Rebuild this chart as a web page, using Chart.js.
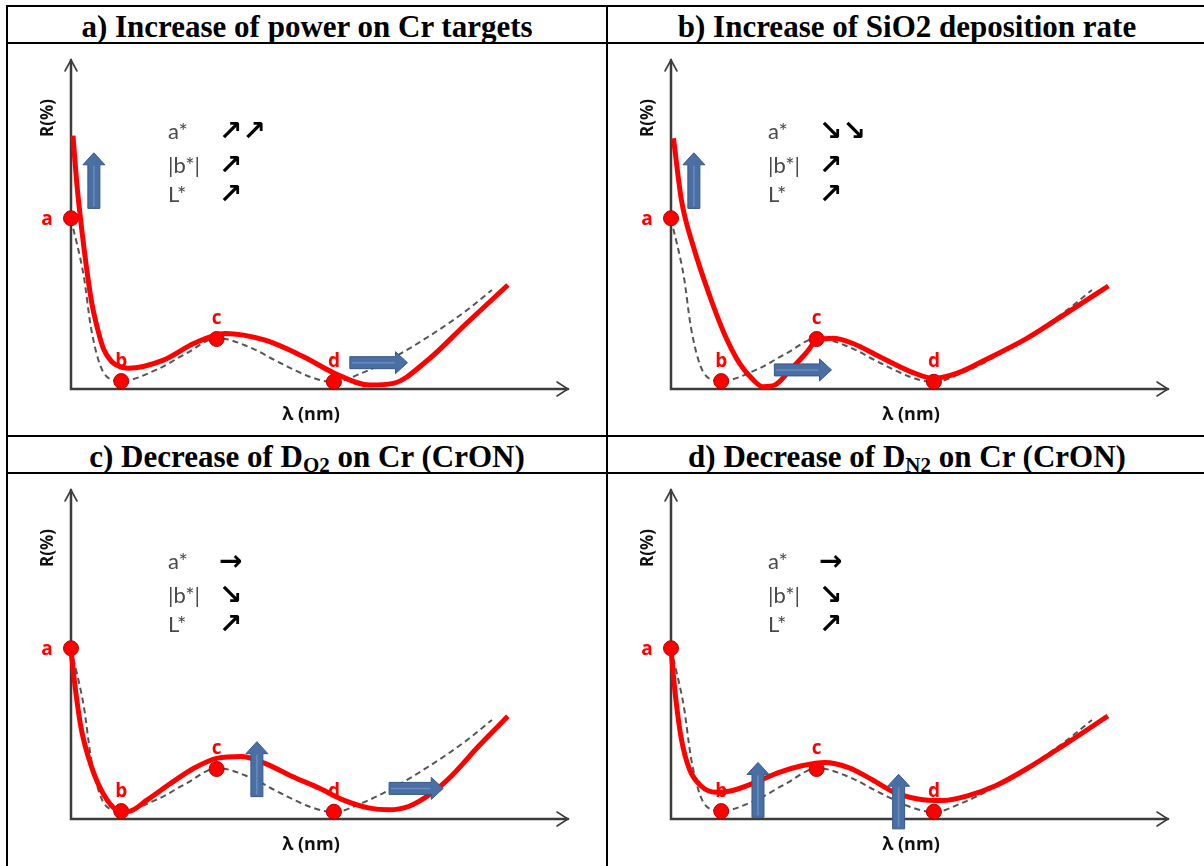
<!DOCTYPE html>
<html>
<head>
<meta charset="utf-8">
<script src="https://cdn.jsdelivr.net/npm/chart.js@4.4.0/dist/chart.umd.min.js"></script>
<style>
  html, body { margin: 0; padding: 0; background: #fff; width: 1204px; height: 866px; overflow: hidden; }
  .rule { position: absolute; background: #000; }
  .title {
    position: absolute; height: 37px; width: 598px;
    font-family: "Liberation Serif", "Times New Roman", serif;
    font-weight: bold; font-size: 31px; line-height: 39px;
    text-align: center; color: #000; white-space: nowrap;
  }
  .title sub { font-size: 21px; vertical-align: -5px; line-height: 0; }
  .cell { position: absolute; width: 598px; height: 392px; }
</style>
</head>
<body>
<div id="page"></div>
<script>
// ---- Panel headings ----
const titleMain = ['a) Increase of power on Cr targets', 'b) Increase of SiO2 deposition rate', 'c) Decrease of D', 'd) Decrease of D'];
const titleSub  = ['', '', 'O2', 'N2'];
const titleTail = ['', '', ' on Cr (CrON)', ' on Cr (CrON)'];

// ---- Reference spectrum (dashed), same in every panel ----
const refX = [0, 2.6, 4.0, 6.0, 8.5, 10.1, 17.1, 23.3, 29.4, 35.8, 42.1, 48.3, 52.9, 58.6, 64.0, 71.8, 79.7, 84.7];
const refY = [51.7, 34.0, 18.8, 6.7, 2.7, 2.4, 5.8, 10.9, 15.5, 12.8, 7.9, 3.6, 2.1, 4.9, 8.8, 15.8, 24.0, 30.1];

// ---- Characteristic points a, b, c, d of the reference ----
const markNames = ['a', 'b', 'c', 'd'];
const markX = [0, 10.1, 29.3, 52.9];
const markY = [51.9, 2.4, 15.2, 2.2];

// ---- Modified spectra (solid red), one per panel ----
const redAX = [0.4, 1.2, 2.2, 3.2, 4.2, 5.4, 6.6, 8.2, 9.8, 11.5, 18.6, 24.8, 31.1, 38.9, 46.8, 53.0, 60.1, 64.8, 71.8, 79.6, 87.9];
const redAY = [77.0, 62.0, 48.0, 36.0, 26.0, 18.0, 12.0, 8.3, 6.8, 6.3, 8.8, 13.9, 16.9, 14.9, 9.8, 4.8, 1.2, 1.7, 8.8, 20.0, 31.6];

const redBX = [0.5, 2.1, 4.5, 7.6, 10.7, 13.8, 16.6, 18.5, 20.9, 24.0, 27.1, 29.5, 32.6, 36.5, 42.0, 48.2, 52.9, 57.6, 63.8, 71.6, 79.5, 88.0];
const redBY = [76.2, 57.4, 43.3, 29.1, 16.9, 7.8, 2.7, 0.7, 1.2, 5.8, 10.8, 14.9, 15.4, 13.9, 9.8, 5.3, 3.2, 4.8, 9.3, 15.4, 23.0, 31.3];

const redCX = [0, 0.9, 2.1, 4.1, 6.4, 9.2, 11.5, 15.4, 20.1, 24.8, 29.5, 34.2, 38.9, 44.4, 49.9, 54.6, 60.1, 64.0, 67.9, 72.6, 76.5, 82.0, 87.9];
const redCY = [51.4, 39.3, 27.1, 16.0, 7.9, 2.8, 2.3, 5.9, 10.9, 15.5, 18.5, 19.0, 17.0, 13.0, 9.4, 5.9, 3.3, 2.8, 3.8, 7.9, 13.0, 22.1, 31.2];

const redDX = [0, 0.9, 2.1, 3.7, 6.0, 9.1, 12.2, 16.9, 21.6, 26.3, 31.0, 35.6, 40.3, 45.0, 49.7, 54.4, 59.8, 65.3, 71.5, 79.3, 87.9];
const redDY = [51.5, 37.4, 24.2, 15.2, 10.1, 8.1, 8.6, 11.1, 14.1, 16.2, 17.2, 15.7, 12.1, 8.1, 6.1, 5.6, 7.1, 10.1, 15.2, 22.7, 31.3];

// ---- Shift arrows: [x0, y0, x1, y1] from tail to head ----
const shiftsA = [[4.6, 54.9, 4.6, 71.8], [56.1, 8.0, 67.7, 8.0]];
const shiftsB = [[4.6, 54.9, 4.6, 71.8], [20.8, 5.8, 32.3, 5.8]];
const shiftsC = [[37.4, 6.8, 37.4, 23.5], [64.0, 9.3, 74.9, 9.3]];
const shiftsD = [[17.5, 0.5, 17.5, 17.2], [45.8, -3.0, 45.8, 13.6]];

// ---- Colour coordinate trends ----
const trendNames = ['a*', '|b*|', 'L*'];
const trendsA = ['\u2197\u2197', '\u2197', '\u2197'];
const trendsB = ['\u2198\u2198', '\u2197', '\u2197'];
const trendsC = ['\u2192', '\u2198', '\u2197'];
const trendsD = ['\u2192', '\u2198', '\u2197'];

const panels = [
  { rx: redAX, ry: redAY, shifts: shiftsA, trends: trendsA },
  { rx: redBX, ry: redBY, shifts: shiftsB, trends: trendsB },
  { rx: redCX, ry: redCY, shifts: shiftsC, trends: trendsC },
  { rx: redDX, ry: redDY, shifts: shiftsD, trends: trendsD }
];

const zip = (xs, ys) => xs.map((x, i) => ({ x: x, y: ys[i] }));

// ---- Page frame: table rules ----
const page = document.getElementById('page');
function rule(l, t, w, h) {
  const d = document.createElement('div');
  d.className = 'rule';
  Object.assign(d.style, { left: l + 'px', top: t + 'px', width: w + 'px', height: h + 'px' });
  page.appendChild(d);
}
rule(6, 5, 1198, 2);
rule(6, 42, 1198, 2);
rule(6, 435, 1198, 2);
rule(6, 472, 1198, 2);
rule(6, 5, 2, 861);
rule(606, 5, 2, 861);

const cellLeft = [8, 608, 8, 608];
const headTop = [7, 7, 437, 437];
const cellTop = [44, 44, 474, 474];

// ---- Drawing helpers ----
function drawAxisArrows(chart) {
  const { ctx, chartArea: a } = chart;
  ctx.save();
  ctx.strokeStyle = '#3c3c3c';
  ctx.lineWidth = 2.5;
  ctx.lineCap = 'round';
  ctx.beginPath();
  ctx.moveTo(a.left, a.top);
  ctx.lineTo(a.left, a.bottom);
  ctx.lineTo(a.right, a.bottom);
  ctx.stroke();
  ctx.lineWidth = 1.6;
  ctx.beginPath();
  ctx.moveTo(a.left - 6, a.top + 11);
  ctx.lineTo(a.left, a.top);
  ctx.lineTo(a.left + 6, a.top + 11);
  ctx.moveTo(a.right - 11, a.bottom - 7);
  ctx.lineTo(a.right, a.bottom);
  ctx.lineTo(a.right - 11, a.bottom + 7);
  ctx.stroke();
  // axis titles
  ctx.fillStyle = '#111';
  ctx.font = 'bold 17px "Open Sans", "DejaVu Sans", sans-serif';
  ctx.textAlign = 'center';
  ctx.textBaseline = 'middle';
  ctx.save();
  ctx.translate(a.left - 23, a.top + 58);
  ctx.rotate(-Math.PI / 2);
  ctx.fillText('R(%)', 0, 0);
  ctx.restore();
  ctx.font = 'bold 18px "Open Sans", "DejaVu Sans", sans-serif';
  ctx.fillText('\u03bb (nm)', a.left + 240, a.bottom + 26);
  ctx.restore();
}

function drawBlockArrow(ctx, x0, y0, x1, y1) {
  const ang = Math.atan2(y1 - y0, x1 - x0);
  const len = Math.hypot(x1 - x0, y1 - y0);
  const half = 6, headHalf = 11, headLen = 12;
  ctx.save();
  ctx.translate(x0, y0);
  ctx.rotate(ang);
  ctx.beginPath();
  ctx.moveTo(0, -half);
  ctx.lineTo(len - headLen, -half);
  ctx.lineTo(len - headLen, -headHalf);
  ctx.lineTo(len, 0);
  ctx.lineTo(len - headLen, headHalf);
  ctx.lineTo(len - headLen, half);
  ctx.lineTo(0, half);
  ctx.closePath();
  ctx.fillStyle = '#4a6fa5';
  ctx.fill();
  ctx.strokeStyle = '#36588a';
  ctx.lineWidth = 1;
  ctx.stroke();
  ctx.strokeStyle = 'rgba(140,170,210,0.5)';
  ctx.lineWidth = 1.5;
  ctx.beginPath();
  ctx.moveTo(2, 0);
  ctx.lineTo(len - headLen - 1, 0);
  ctx.stroke();
  ctx.restore();
}

const overlay = {
  id: 'overlay',
  beforeDatasetsDraw(chart) {
    drawAxisArrows(chart);
  },
  afterDatasetsDraw(chart, args, opts) {
    const { ctx, scales: { x, y } } = chart;
    // shift arrows
    opts.shifts.forEach(s => {
      drawBlockArrow(ctx, x.getPixelForValue(s[0]), y.getPixelForValue(s[1]),
                          x.getPixelForValue(s[2]), y.getPixelForValue(s[3]));
    });
    // point letters
    ctx.save();
    ctx.fillStyle = '#ff0000';
    ctx.font = 'bold 19px "Open Sans", "DejaVu Sans", sans-serif';
    ctx.textAlign = 'center';
    ctx.textBaseline = 'middle';
    markNames.forEach((n, i) => {
      const px = x.getPixelForValue(markX[i]);
      const py = y.getPixelForValue(markY[i]);
      if (i === 0) ctx.fillText(n, px - 24, py + 1);
      else ctx.fillText(n, px, py - 20);
    });
    ctx.restore();
    // colour trends
    ctx.save();
    ctx.textBaseline = 'alphabetic';
    ctx.textAlign = 'left';
    const rows = [76, 65.6, 56.8];
    trendNames.forEach((n, i) => {
      const py = y.getPixelForValue(rows[i]);
      ctx.fillStyle = '#4a4a4a';
      ctx.font = '22px Lato, "Liberation Sans", sans-serif';
      ctx.fillText(n, x.getPixelForValue(19.5), py);
      ctx.fillStyle = '#000';
      ctx.font = 'bold 28px "DejaVu Sans", sans-serif';
      ctx.fillText(opts.trends[i], x.getPixelForValue(29.8), py + 1);
    });
    ctx.restore();
  }
};

panels.forEach((p, k) => {
  const head = document.createElement('div');
  head.className = 'title';
  head.style.left = cellLeft[k] + 'px';
  head.style.top = headTop[k] + 'px';
  head.appendChild(document.createTextNode(titleMain[k]));
  if (titleSub[k]) {
    const s = document.createElement('sub');
    s.textContent = titleSub[k];
    head.appendChild(s);
    head.appendChild(document.createTextNode(titleTail[k]));
  }
  page.appendChild(head);

  const cell = document.createElement('div');
  cell.className = 'cell';
  cell.style.left = cellLeft[k] + 'px';
  cell.style.top = cellTop[k] + 'px';
  const cv = document.createElement('canvas');
  cv.width = 598; cv.height = 392;
  cell.appendChild(cv);
  page.appendChild(cell);

  new Chart(cv, {
    type: 'line',
    data: {
      datasets: [
        {
          label: 'modified',
          data: zip(p.rx, p.ry),
          borderColor: '#ff0000',
          borderWidth: 5,
          pointRadius: 0,
          cubicInterpolationMode: 'monotone',
          fill: false,
          clip: false,
          order: 1
        },
        {
          label: 'points',
          data: zip(markX, markY),
          showLine: false,
          pointRadius: 7.5,
          pointBackgroundColor: '#ff0000',
          pointBorderColor: '#b00000',
          pointBorderWidth: 1,
          clip: false,
          order: 2
        },
        {
          label: 'reference',
          data: zip(refX, refY),
          borderColor: '#555555',
          borderWidth: 2,
          borderDash: [6, 4],
          pointRadius: 0,
          cubicInterpolationMode: 'monotone',
          fill: false,
          clip: false,
          order: 3
        }
      ]
    },
    options: {
      responsive: false,
      animation: false,
      events: [],
      layout: { padding: { left: 63, top: 16, right: 38, bottom: 47 } },
      scales: {
        x: { type: 'linear', min: 0, max: 100, display: false },
        y: { type: 'linear', min: 0, max: 100, display: false }
      },
      plugins: {
        legend: { display: false },
        tooltip: { enabled: false },
        overlay: { shifts: p.shifts, trends: p.trends }
      }
    },
    plugins: [overlay]
  });
});
</script>
</body>
</html>
